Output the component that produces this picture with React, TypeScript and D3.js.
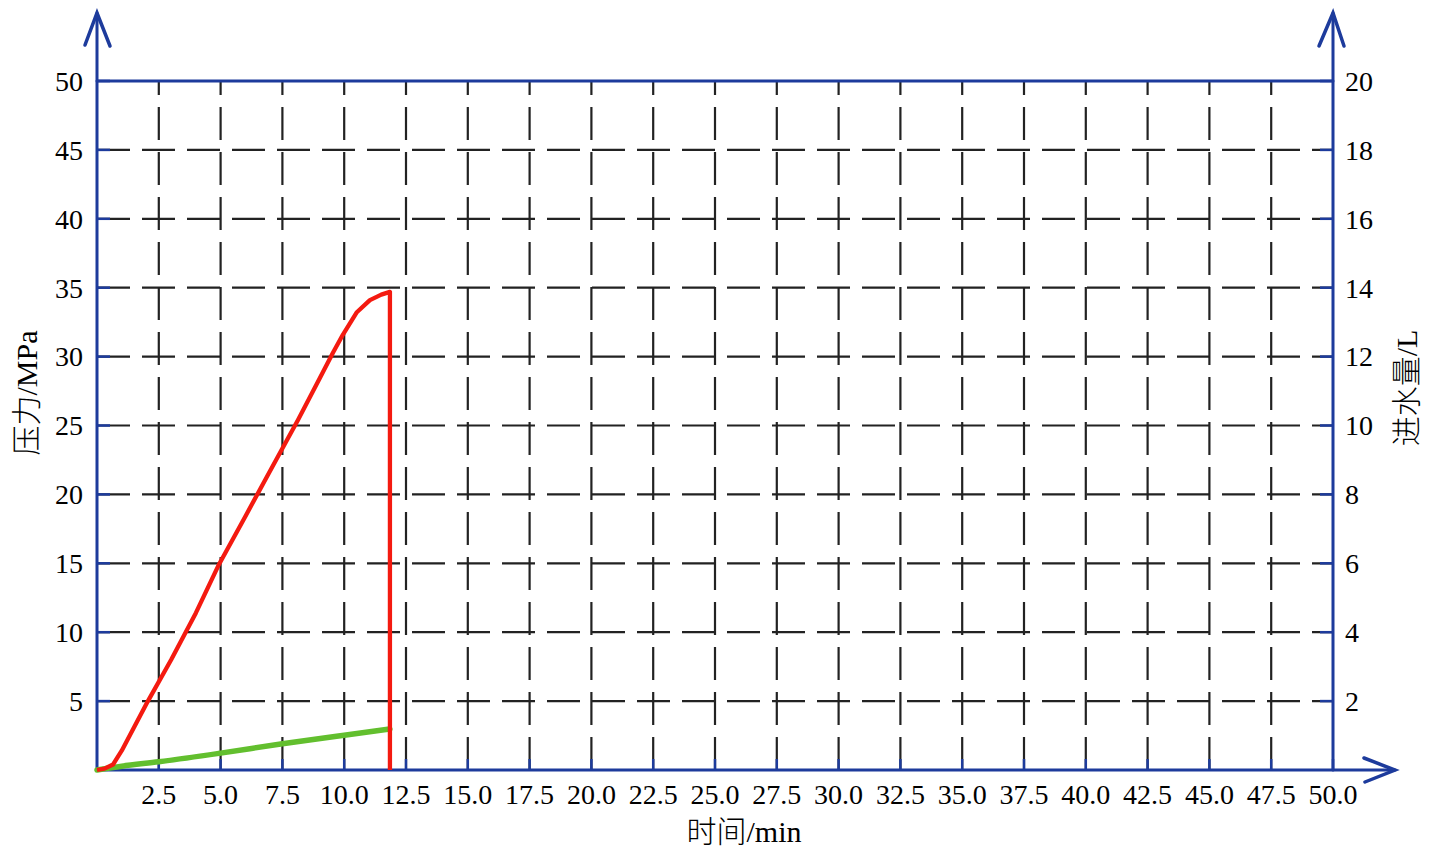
import React from "react";
import * as d3 from "d3";

// ---- data ----
const xTicks = d3.range(1, 21).map((i) => i * 2.5);
const leftTicks = [5, 10, 15, 20, 25, 30, 35, 40, 45, 50];
const rightTicks = [2, 4, 6, 8, 10, 12, 14, 16, 18, 20];

// pressure (MPa) vs time (min)
const pressureTime = [0, 0.3, 0.65, 1.0, 1.5, 2.06, 3.0, 4.0, 4.9, 6.0, 7.0, 8.13, 9.0, 9.55, 9.95, 10.5, 11.04, 11.5, 11.85, 11.85];
const pressureVal = [0, 0.1, 0.4, 1.4, 3.1, 5.0, 8.0, 11.4, 14.8, 18.4, 21.7, 25.4, 28.4, 30.3, 31.6, 33.2, 34.1, 34.5, 34.7, 0];

// water intake (L) vs time (min)
const waterTime = [0, 1.0, 2.5, 5.0, 7.5, 10.0, 11.85];
const waterVal = [0, 0.11, 0.24, 0.49, 0.76, 1.01, 1.19];

const W = 1439;
const H = 851;
const L = 97, R = 1333, T = 81, B = 770;
const AX = "#1d3b9c";
const SERIF = "'Liberation Serif', 'DejaVu Serif', serif";
const CJK = "'Noto Sans CJK SC', sans-serif";

export default function App() {
  const x = d3.scaleLinear().domain([0, 50]).range([L, R]);
  const yL = d3.scaleLinear().domain([0, 50]).range([B, T]);
  const yR = d3.scaleLinear().domain([0, 20]).range([B, T]);

  const pData = pressureTime.map((t, i) => [t, pressureVal[i]] as [number, number]);
  const wData = waterTime.map((t, i) => [t, waterVal[i]] as [number, number]);

  const pLine = d3.line<[number, number]>().x((d) => x(d[0])).y((d) => yL(d[1]));
  const wLine = d3
    .line<[number, number]>()
    .x((d) => x(d[0]))
    .y((d) => yR(d[1]))
    .curve(d3.curveMonotoneX);

  return (
    <svg
      width={W}
      height={H}
      style={{ position: "absolute", left: 0, top: 0, background: "#fff" }}
    >
      {/* grid */}
      <g stroke="#222" strokeWidth={2.2} strokeDasharray="33 12">
        {xTicks.slice(0, -1).map((t) => (
          <line key={"vx" + t} x1={x(t)} x2={x(t)} y1={B} y2={T} />
        ))}
        {leftTicks.slice(0, -1).map((v) => (
          <line key={"hy" + v} x1={L} x2={R} y1={yL(v)} y2={yL(v)} />
        ))}
      </g>

      {/* axes */}
      <g stroke={AX} strokeWidth={3} fill="none" strokeLinecap="round">
        <line x1={L} x2={L} y1={B} y2={13} />
        <line x1={R} x2={R} y1={B} y2={13} />
        <line x1={L} x2={1395} y1={B} y2={B} />
        <line x1={L} x2={R} y1={T} y2={T} />
        <polyline points={`85,45 ${L},13 110,46`} strokeWidth={3.5} />
        <polyline points={`1319,46 ${R},13 1344,46`} strokeWidth={3.5} />
        <polyline points={`1364,758 1395,770 1365,782`} strokeWidth={3.5} />
      </g>
      {/* ticks */}
      <g stroke={AX} strokeWidth={2.5}>
        {leftTicks.map((v) => (
          <line key={"lt" + v} x1={L} x2={L + 13} y1={yL(v)} y2={yL(v)} />
        ))}
        {rightTicks.map((v) => (
          <line key={"rt" + v} x1={R - 13} x2={R} y1={yR(v)} y2={yR(v)} />
        ))}
        {xTicks.map((t) => (
          <line key={"bt" + t} x1={x(t)} x2={x(t)} y1={B} y2={B - 11} />
        ))}
      </g>

      {/* series */}
      <path d={wLine(wData) || ""} fill="none" stroke="#62bf2e" strokeWidth={5.5} strokeLinecap="round" />
      <path d={pLine(pData) || ""} fill="none" stroke="#f41a10" strokeWidth={4.3} strokeLinejoin="round" />

      {/* tick labels */}
      <g fontFamily={SERIF} fontSize={28} fill="#000">
        {xTicks.map((t) => (
          <text key={"xl" + t} x={x(t)} y={804} textAnchor="middle">
            {t.toFixed(1)}
          </text>
        ))}
        {leftTicks.map((v) => (
          <text key={"ll" + v} x={83} y={yL(v)} dy="0.35em" textAnchor="end">
            {v}
          </text>
        ))}
        {rightTicks.map((v) => (
          <text key={"rl" + v} x={1345} y={yR(v)} dy="0.35em" textAnchor="start">
            {v}
          </text>
        ))}
      </g>

      {/* axis titles */}
      <text x={744} y={842} textAnchor="middle" fontSize={30} fontFamily={SERIF} fill="#000">
        <tspan fontFamily={CJK} fontWeight={300}>时间</tspan>/min
      </text>
      <text
        transform="translate(37,393) rotate(-90)"
        textAnchor="middle"
        fontSize={30}
        fontFamily={SERIF}
        fill="#000"
      >
        <tspan fontFamily={CJK} fontWeight={300}>压力</tspan>/MPa
      </text>
      <text
        transform="translate(1417,388) rotate(-90)"
        textAnchor="middle"
        fontSize={30}
        fontFamily={SERIF}
        fill="#000"
      >
        <tspan fontFamily={CJK} fontWeight={300}>进水量</tspan>/L
      </text>
    </svg>
  );
}
